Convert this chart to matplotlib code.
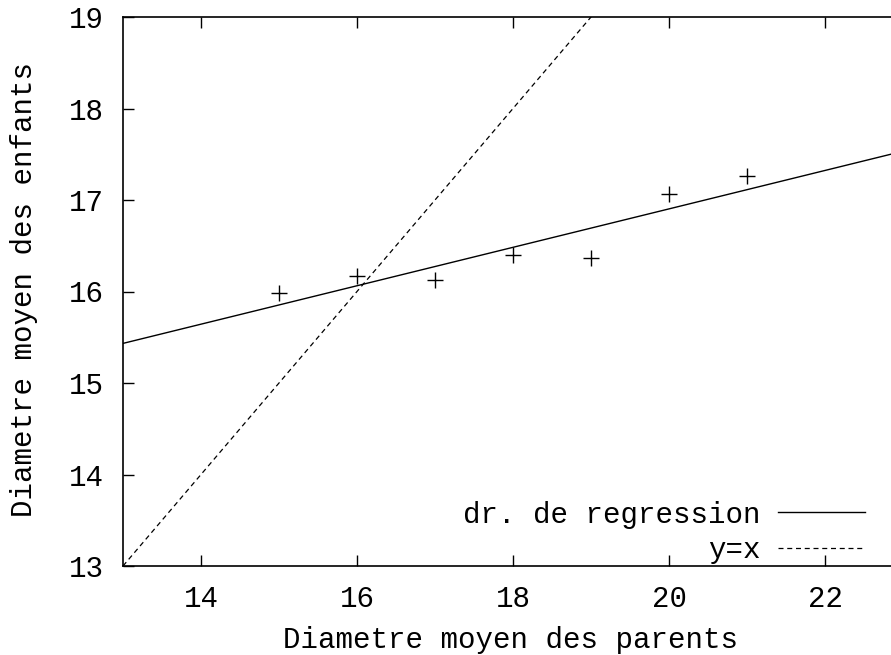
import numpy as np
import matplotlib
matplotlib.use("Agg")
from matplotlib import pyplot as plt

# mean diameter of parents vs mean diameter of children
parents = [15, 16, 17, 18, 19, 20, 21]
children = [15.98, 16.17, 16.13, 16.40, 16.37, 17.07, 17.26]

x_ticks = [14, 16, 18, 20, 22]
y_ticks = [13, 14, 15, 16, 17, 18, 19]

plt.rcParams['font.family'] = ['Liberation Mono', 'DejaVu Sans Mono']
fs = 21

fig = plt.figure(figsize=(8.91, 6.55), dpi=100)
# the frame runs a little past the right edge of the figure
ax = fig.add_axes([123 / 891, 89 / 655, 780 / 891, 549 / 655])

# least squares line through the points
slope, intercept = np.polyfit(parents, children, 1)
xs = np.array([13, 23])

ax.plot(parents, children, linestyle='none', marker='+', markersize=12,
        markeredgewidth=1, color='black')
ax.plot(xs, slope * xs + intercept, color='black', linewidth=1,
        label='dr. de regression')
ax.plot(xs, xs, color='black', linewidth=0.9, dashes=(4, 3), label='y=x')

ax.set_xlim(13, 23)
ax.set_ylim(13, 19)
ax.set_xticks(x_ticks)
ax.set_yticks(y_ticks)
ax.tick_params(direction='in', length=8, width=1, labelsize=fs, pad=14,
               top=True, right=True)
ax.tick_params(axis='y', pad=14)
for s in ax.spines.values():
    s.set_linewidth(1.2)

ax.set_xlabel('Diametre moyen des parents', fontsize=fs, va='baseline')
ax.set_ylabel('Diametre moyen des enfants', fontsize=fs, va='center')
ax.xaxis.set_label_coords(0.497, -0.1494)
ax.yaxis.set_label_coords(-0.127, 0.503)

leg = ax.legend(loc='lower right', bbox_to_anchor=(880 / 891, 76 / 655),
                bbox_transform=fig.transFigure, frameon=False, markerfirst=False,
                fontsize=fs, handlelength=3.0, handletextpad=0.6,
                labelspacing=0.27, borderpad=0)

plt.savefig('out.png', dpi=100)
